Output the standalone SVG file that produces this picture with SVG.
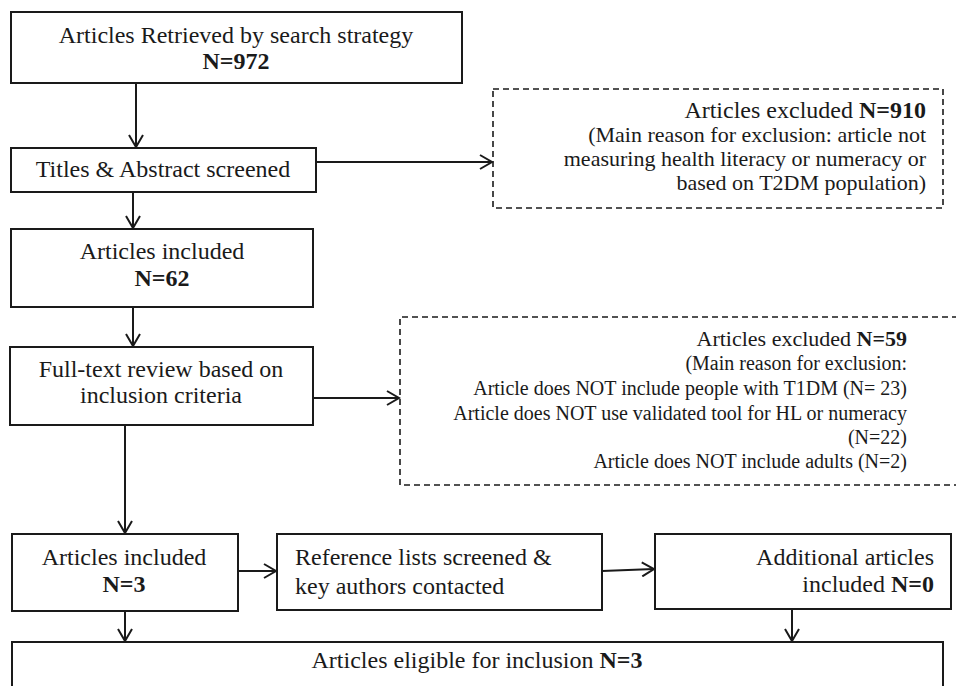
<svg xmlns="http://www.w3.org/2000/svg" width="956" height="686" viewBox="0 0 956 686">
<style>
.box{fill:#fff;stroke:#1a1a1a;stroke-width:2}
.dash{fill:none;stroke:#1a1a1a;stroke-width:1.6;stroke-dasharray:6 4}
.t{font-family:"Liberation Serif","Times New Roman",serif;font-size:24px;fill:#1a1a1a}
.s{font-size:22px}
.xs{font-size:20px}
.b{font-weight:bold}
.c{text-anchor:middle}
.r{text-anchor:end}
.conn{fill:none;stroke:#1a1a1a;stroke-width:2}
</style>
<defs>
<marker id="ah" markerUnits="userSpaceOnUse" markerWidth="16" markerHeight="16" refX="14" refY="8" orient="auto">
<path d="M2,1 L14,8 L2,15" fill="none" stroke="#1a1a1a" stroke-width="2"/>
</marker>
</defs>
<rect width="956" height="686" fill="#fff"/>

<g id="connectors">
<path class="conn" d="M136,83 V147" marker-end="url(#ah)"/>
<path class="conn" d="M316,162 H492" marker-end="url(#ah)"/>
<path class="conn" d="M133,192 V228" marker-end="url(#ah)"/>
<path class="conn" d="M133,307 V346" marker-end="url(#ah)"/>
<path class="conn" d="M313,398 H399" marker-end="url(#ah)"/>
<path class="conn" d="M125,425 V533" marker-end="url(#ah)"/>
<path class="conn" d="M238,571 H276" marker-end="url(#ah)"/>
<path class="conn" d="M602,571 L654,569" marker-end="url(#ah)"/>
<path class="conn" d="M125,611 V641" marker-end="url(#ah)"/>
<path class="conn" d="M792,609 V641" marker-end="url(#ah)"/>
</g>

<g id="retrieved">
<rect class="box" x="11" y="12" width="451" height="71"/>
<text class="t c" x="236" y="43">Articles Retrieved by search strategy</text>
<text class="t c b" x="236" y="69">N=972</text>
</g>

<g id="screened">
<rect class="box" x="11" y="148" width="305" height="44"/>
<text class="t c" x="163" y="177">Titles &amp; Abstract screened</text>
</g>

<g id="excluded1">
<rect class="dash" x="493" y="89" width="450" height="119"/>
<text class="t r" x="926" y="118">Articles excluded <tspan class="b">N=910</tspan></text>
<text class="t r s" x="926" y="142">(Main reason for exclusion: article not</text>
<text class="t r s" x="926" y="166">measuring health literacy or numeracy or</text>
<text class="t r s" x="926" y="190">based on T2DM population)</text>
</g>

<g id="included62">
<rect class="box" x="11" y="229" width="302" height="78"/>
<text class="t c" x="162" y="259">Articles included</text>
<text class="t c b" x="162" y="286">N=62</text>
</g>

<g id="fulltext">
<rect class="box" x="10" y="347" width="303" height="78"/>
<text class="t c" x="161" y="377">Full-text review based on</text>
<text class="t c" x="161" y="403">inclusion criteria</text>
</g>

<g id="excluded2">
<path class="dash" d="M958,317 H400 V485 H958"/>
<text class="t r s" x="907" y="346">Articles excluded <tspan class="b">N=59</tspan></text>
<text class="t r xs" x="907" y="370">(Main reason for exclusion:</text>
<text class="t r xs" x="907" y="395">Article does NOT include people with T1DM (N= 23)</text>
<text class="t r xs" x="907" y="420">Article does NOT use validated tool for HL or numeracy</text>
<text class="t r xs" x="907" y="444">(N=22)</text>
<text class="t r xs" x="907" y="468">Article does NOT include adults (N=2)</text>
</g>

<g id="included3">
<rect class="box" x="12" y="534" width="226" height="77"/>
<text class="t c" x="124" y="565">Articles included</text>
<text class="t c b" x="124" y="592">N=3</text>
</g>

<g id="reference">
<rect class="box" x="277" y="534" width="325" height="76"/>
<text class="t" x="295" y="565">Reference lists screened &amp;</text>
<text class="t" x="295" y="594">key authors contacted</text>
</g>

<g id="additional">
<rect class="box" x="655" y="534" width="296" height="75"/>
<text class="t r" x="934" y="565">Additional articles</text>
<text class="t r" x="934" y="592">included <tspan class="b">N=0</tspan></text>
</g>

<g id="eligible">
<rect class="box" x="12" y="642" width="931" height="60"/>
<text class="t c" x="477" y="668">Articles eligible for inclusion <tspan class="b">N=3</tspan></text>
</g>
</svg>
